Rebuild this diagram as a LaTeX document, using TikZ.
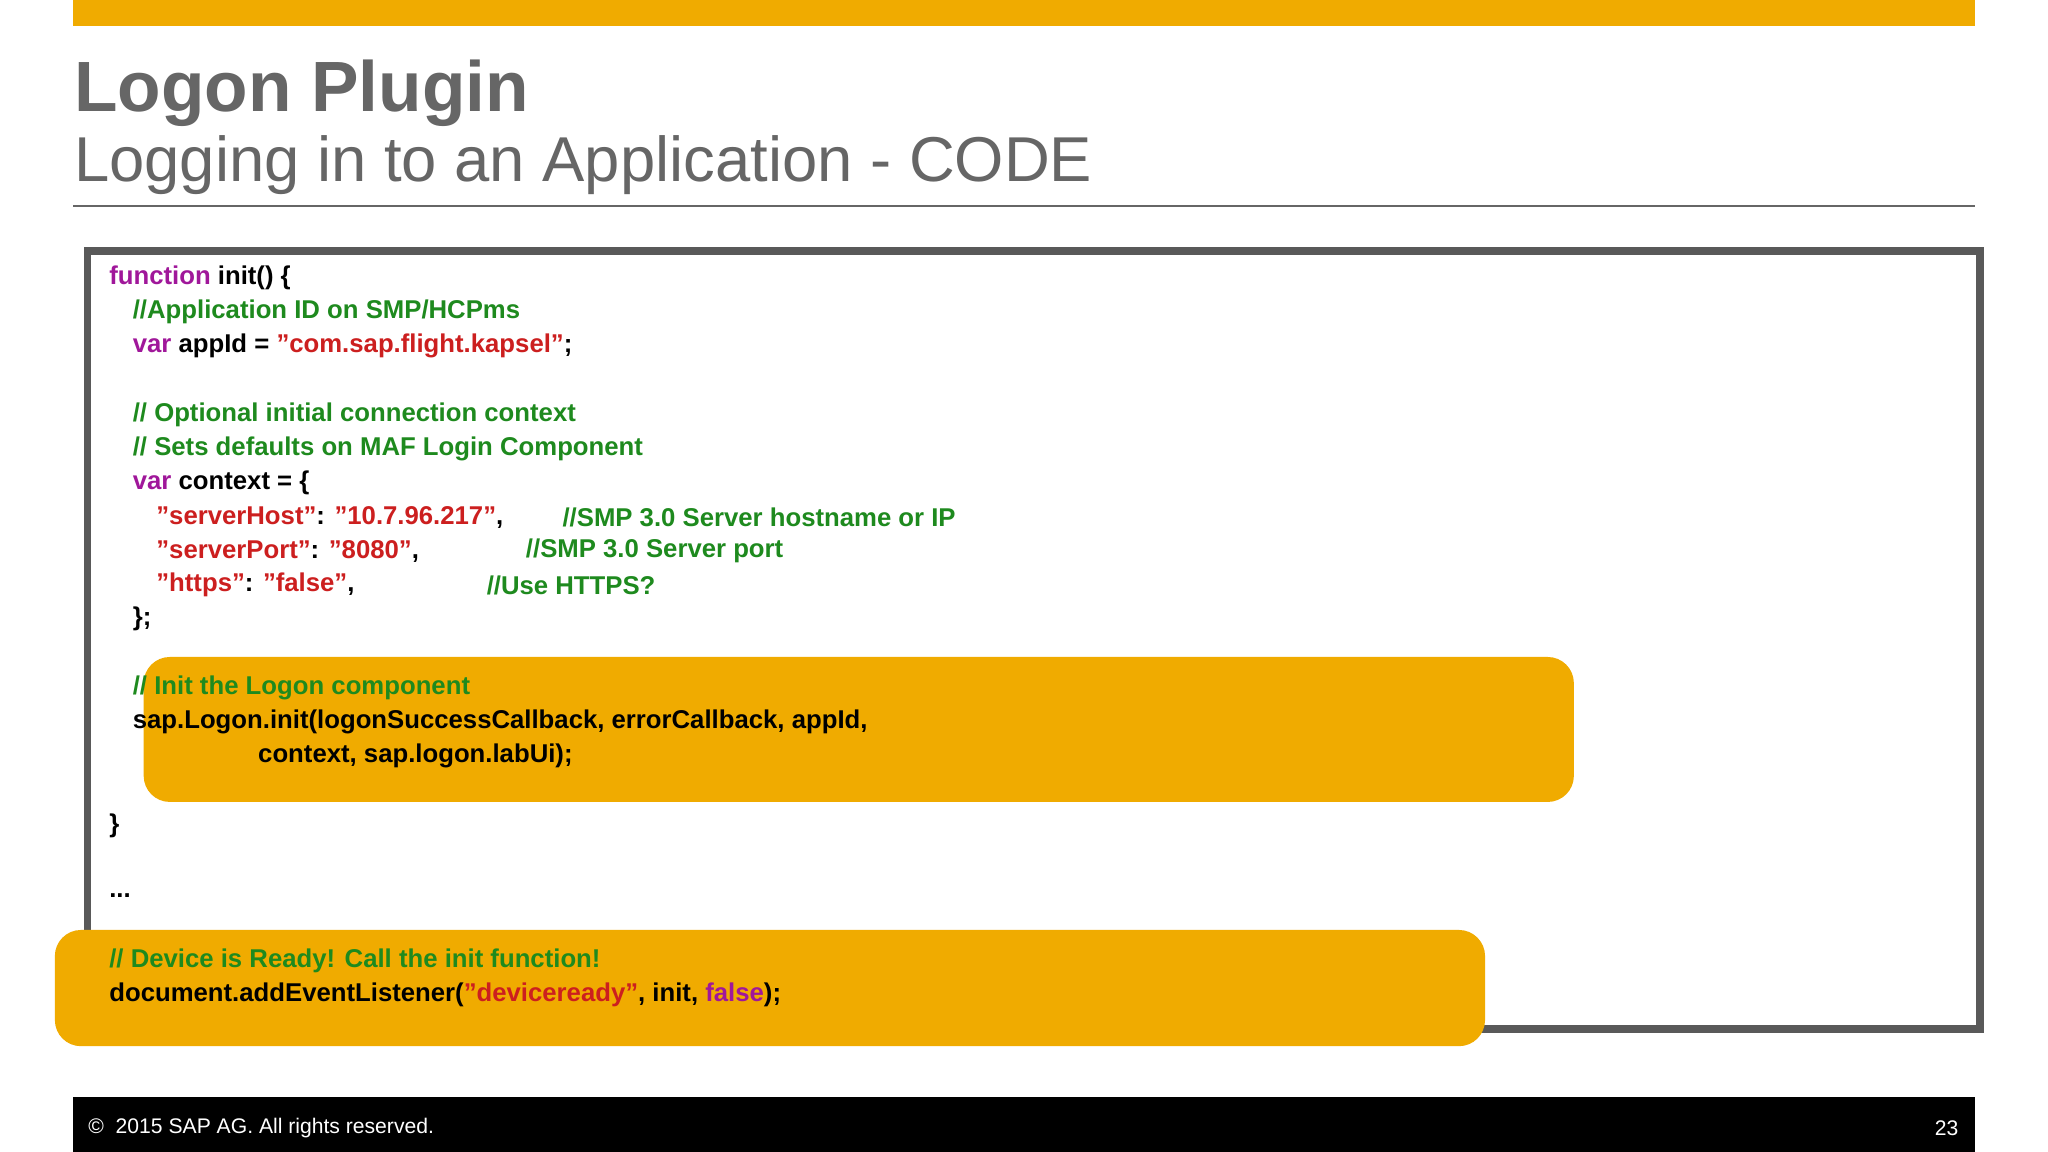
\documentclass[tikz,border=0pt]{standalone}
\usepackage{fontspec}
\setmainfont{Liberation Sans}
\definecolor{sapor}{HTML}{F0AB00}
\definecolor{kw}{HTML}{A0179A}
\definecolor{cm}{HTML}{1E8A1E}
\definecolor{st}{HTML}{CC1F1F}
\definecolor{tg}{HTML}{666666}
\begin{document}
\begin{tikzpicture}[x=0.01cm,y=-0.01cm,
  code/.style={anchor=west,inner sep=0pt,font=\fontsize{5.6pt}{6pt}\selectfont\bfseries,text=black},
  hl/.style={fill=sapor,draw=none,rounded corners=0.2cm}]
\useasboundingbox (0,0) rectangle (1568,882);
\fill[white] (0,0) rectangle (1568,882);
\fill[sapor] (56,0) rectangle (1512,20);
\node[anchor=base west,inner sep=0pt,text=tg,font=\fontsize{15.5pt}{16pt}\selectfont\bfseries] (title) at (56,85) {Logon Plugin};
\node[anchor=base west,inner sep=0pt,text=tg,font=\fontsize{13.8pt}{14pt}\selectfont] (sub) at (56,139) {Logging in to an Application - CODE};
\draw[tg,line width=0.4pt] (56,158) -- (1512,158);
\draw[draw=black!65,line width=1.7pt] (67,192) rectangle (1516,788);
\fill[hl] (110,503) rectangle (1205,614);
\fill[hl] (42,712) rectangle (1137,801);
\node[code] (l1) at (83,213) {\textcolor{kw}{function} init() \{};
\node[code] (l2) at (101,239) {\textcolor{cm}{//Application ID on SMP/HCPms}};
\node[code] (l3) at (101,265) {\textcolor{kw}{var} appId = \textcolor{st}{"com.sap.flight.kapsel"};};
\node[code] (l4) at (101,318) {\textcolor{cm}{// Optional initial connection context}};
\node[code] (l5) at (101,344) {\textcolor{cm}{// Sets defaults on MAF Login Component}};
\node[code] (l6) at (101,370) {\textcolor{kw}{var} context = \{};
\node[code] (l7) at (119,396) {\textcolor{st}{"serverHost"}: \textcolor{st}{"10.7.96.217"},};
\node[code] (c7) at (430,396) {\textcolor{cm}{//SMP 3.0 Server hostname or IP}};
\node[code] (l8) at (119,422) {\textcolor{st}{"serverPort"}: \textcolor{st}{"8080"},};
\node[code] (c8) at (402,422) {\textcolor{cm}{//SMP 3.0 Server port}};
\node[code] (l9) at (119,448) {\textcolor{st}{"https"}: \textcolor{st}{"false"},};
\node[code] (c9) at (372,448) {\textcolor{cm}{//Use HTTPS?}};
\node[code] (l10) at (101,474) {\};};
\node[code] (l11) at (101,527) {\textcolor{cm}{// Init the Logon component}};
\node[code] (l12) at (101,553) {sap.Logon.init(logonSuccessCallback, errorCallback, appId,};
\node[code] (l13) at (197,579) {context, sap.logon.labUi);};
\node[code] (l14) at (83,632) {\}};
\node[code] (l15) at (83,686) {...};
\node[code] (l16) at (83,736) {\textcolor{cm}{// Device is Ready! Call the init function!}};
\node[code] (l17) at (83,762) {document.addEventListener(\textcolor{st}{"deviceready"}, init, \textcolor{kw}{false});};
\fill[black] (56,840) rectangle (1512,882);
\node[anchor=west,inner sep=0pt,text=white,font=\fontsize{4.6pt}{5pt}\selectfont] (copy) at (67,864) {©\ \ 2015 SAP AG. All rights reserved.};
\node[anchor=east,inner sep=0pt,text=white,font=\fontsize{4.6pt}{5pt}\selectfont] (pg) at (1500,864) {23};
\end{tikzpicture}
\end{document}
